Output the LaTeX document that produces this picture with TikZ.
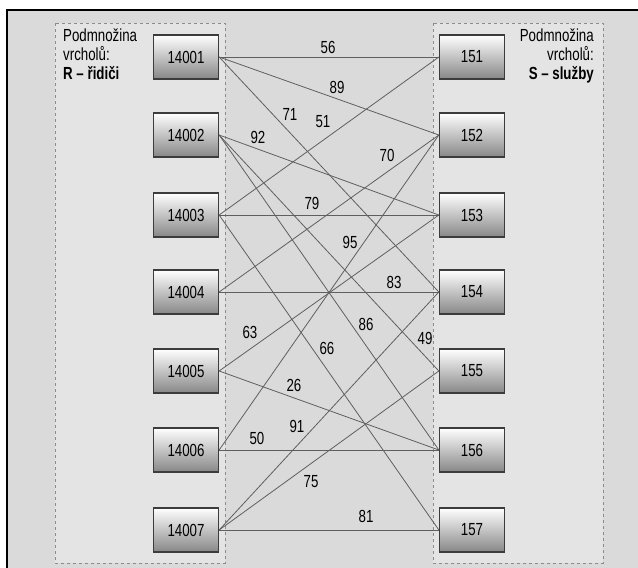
\documentclass[tikz,border=0pt]{standalone}
\usepackage{fontspec}
\setmainfont{Liberation Sans}[FakeStretch=0.76]
\usepackage{tikz}
\definecolor{panelgray}{RGB}{218, 218, 218}
\definecolor{setgray}{RGB}{228, 228, 228}
\definecolor{dashgray}{RGB}{140, 140, 140}
\definecolor{edgegray}{RGB}{95, 95, 95}
\definecolor{boxline}{RGB}{60, 60, 60}
\definecolor{boxshade}{RGB}{135, 135, 135}

\begin{document}
\begin{tikzpicture}[x=1pt, y=-1pt,
        vertex/.style={draw=boxline, line width=1.3pt, minimum width=65pt, minimum height=44pt,
                       inner sep=0pt, top color=white, middle color=white!92!boxshade, bottom color=boxshade,
                       font=\fontsize{17.5}{19}\selectfont},
        setbox/.style={draw=dashgray, fill=setgray, dashed, line width=0.8pt},
        link/.style={draw=edgegray, line width=0.8pt},
        weight/.style={inner sep=0pt, font=\fontsize{17.5}{19}\selectfont},
        caption/.style={inner sep=0pt, font=\fontsize{17.5}{19}\selectfont}]
            \useasboundingbox (0, 0) rectangle (638, 568);
            \fill[panelgray] (7, 10) rectangle (638, 568);
            \draw[black, line width=1.2pt] (7, 568) -- (7, 10) -- (638, 10);
            \filldraw[setbox] ( 55, 23) rectangle (225, 563);
            \filldraw[setbox] (433, 23) rectangle (603, 563);

            \node[caption, anchor=north west, align=left]  (capR) at ( 63, 29) {Podmnožina\\vrcholů:\\\textbf{R – řidiči}};
            \node[caption, anchor=north east, align=right] (capS) at (594, 29) {Podmnožina\\vrcholů:\\\textbf{S – služby}};

            \node[vertex] (l1) at (186,  57) {14001};
            \node[vertex] (l2) at (186, 135) {14002};
            \node[vertex] (l3) at (186, 215) {14003};
            \node[vertex] (l4) at (186, 292) {14004};
            \node[vertex] (l5) at (186, 371) {14005};
            \node[vertex] (l6) at (186, 450) {14006};
            \node[vertex] (l7) at (186, 530) {14007};

            \node[vertex] (r1) at (472,  57) {151};
            \node[vertex] (r2) at (472, 135) {152};
            \node[vertex] (r3) at (472, 215) {153};
            \node[vertex] (r4) at (472, 292) {154};
            \node[vertex] (r5) at (472, 371) {155};
            \node[vertex] (r6) at (472, 450) {156};
            \node[vertex] (r7) at (472, 530) {157};

            \draw[link] (l1.east) -- (r1.west);
            \draw[link] (l1.east) -- (r2.west);
            \draw[link] (l1.east) -- (r4.west);
            \draw[link] (l2.east) -- (r3.west);
            \draw[link] (l2.east) -- (r5.west);
            \draw[link] (l2.east) -- (r6.west);
            \draw[link] (l3.east) -- (r1.west);
            \draw[link] (l3.east) -- (r3.west);
            \draw[link] (l3.east) -- (r7.west);
            \draw[link] (l4.east) -- (r2.west);
            \draw[link] (l4.east) -- (r4.west);
            \draw[link] (l5.east) -- (r3.west);
            \draw[link] (l5.east) -- (r6.west);
            \draw[link] (l6.east) -- (r2.west);
            \draw[link] (l6.east) -- (r6.west);
            \draw[link] (l7.east) -- (r4.west);
            \draw[link] (l7.east) -- (r5.west);
            \draw[link] (l7.east) -- (r7.west);

            \node[weight] (w56) at (328,  47) {56};
            \node[weight] (w89) at (337,  87) {89};
            \node[weight] (w71) at (290, 114) {71};
            \node[weight] (w51) at (323, 122) {51};
            \node[weight] (w92) at (258, 137) {92};
            \node[weight] (w70) at (387, 155) {70};
            \node[weight] (w79) at (312, 203) {79};
            \node[weight] (w95) at (350, 242) {95};
            \node[weight] (w83) at (394, 282) {83};
            \node[weight] (w63) at (250, 332) {63};
            \node[weight] (w86) at (366, 324) {86};
            \node[weight] (w66) at (327, 348) {66};
            \node[weight] (w49) at (425, 338) {49};
            \node[weight] (w26) at (294, 385) {26};
            \node[weight] (w91) at (297, 426) {91};
            \node[weight] (w50) at (257, 438) {50};
            \node[weight] (w75) at (311, 482) {75};
            \node[weight] (w81) at (366, 516) {81};
        \end{tikzpicture}
\end{document}
